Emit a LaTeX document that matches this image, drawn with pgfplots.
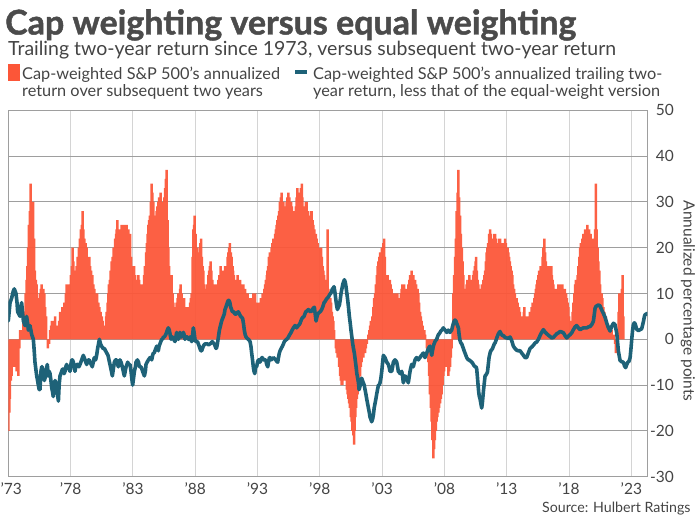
\documentclass[border=0pt]{standalone}
\usepackage{pgfplots}
\usepackage{pgfplotstable}
\pgfplotsset{compat=1.18}
\usepackage{fontspec}
\setmainfont{Lato}
\newfontfamily\heavyfont{Lato}[BoldFeatures={FakeBold=1.3}]
\definecolor{barred}{RGB}{252,86,56}
\definecolor{lineteal}{RGB}{30,98,120}
\definecolor{txt}{RGB}{68,68,68}
\definecolor{titlegray}{RGB}{75,75,75}

\pgfplotstableread[row sep=\\]{
x y \\
1973.0 -20 \\ 1973.08 -16 \\ 1973.13 -13 \\ 1973.2 -9 \\ 1973.27 -8 \\ 1973.35 -5 \\ 1973.45 -6 \\ 1973.55 -4 \\ 1973.67 -7 \\ 1973.8 -8 \\
1973.88 -2 \\ 1973.94 2 \\ 1974.07 2 \\ 1974.2 4 \\ 1974.3 6 \\ 1974.39 10 \\ 1974.47 13 \\ 1974.53 16 \\ 1974.6 20 \\ 1974.66 25 \\
1974.73 28 \\ 1974.8 34 \\ 1974.87 27 \\ 1974.93 26 \\ 1975.0 30 \\ 1975.07 22 \\ 1975.14 15 \\ 1975.21 13 \\ 1975.28 12 \\ 1975.35 9 \\
1975.41 8 \\ 1975.48 9 \\ 1975.54 10 \\ 1975.61 11 \\ 1975.68 12 \\ 1975.75 9 \\ 1975.82 11 \\ 1975.89 10 \\ 1975.96 7 \\ 1976.03 5 \\
1976.1 0 \\ 1976.17 -2 \\ 1976.27 -1 \\ 1976.35 2 \\ 1976.43 3 \\ 1976.5 4 \\ 1976.6 4 \\ 1976.67 3 \\ 1976.75 5 \\ 1976.82 3 \\
1976.88 2 \\ 1976.95 3 \\ 1977.02 1 \\ 1977.08 4 \\ 1977.15 6 \\ 1977.25 6 \\ 1977.34 7 \\ 1977.42 6 \\ 1977.5 8 \\ 1977.55 8 \\
1977.62 10 \\ 1977.68 12 \\ 1977.75 11 \\ 1977.8 12 \\ 1977.88 10 \\ 1977.95 11 \\ 1978.03 14 \\ 1978.1 16 \\ 1978.16 20 \\ 1978.23 17 \\
1978.3 15 \\ 1978.35 15 \\ 1978.42 14 \\ 1978.49 16 \\ 1978.56 18 \\ 1978.62 17 \\ 1978.67 20 \\ 1978.75 22 \\ 1978.83 24 \\ 1978.9 25 \\
1978.97 28 \\ 1979.03 24 \\ 1979.1 22 \\ 1979.2 21 \\ 1979.29 20 \\ 1979.35 18 \\ 1979.42 17 \\ 1979.5 18 \\ 1979.56 16 \\ 1979.64 15 \\
1979.74 14 \\ 1979.82 12 \\ 1979.9 11 \\ 1979.96 10 \\ 1980.05 9 \\ 1980.13 10 \\ 1980.23 8 \\ 1980.3 7 \\ 1980.4 6 \\ 1980.5 5 \\
1980.57 4 \\ 1980.64 2 \\ 1980.71 0 \\ 1980.78 3 \\ 1980.84 5 \\ 1980.9 6 \\ 1980.97 8 \\ 1981.03 10 \\ 1981.08 12 \\ 1981.15 13 \\
1981.22 15 \\ 1981.3 17 \\ 1981.38 18 \\ 1981.45 20 \\ 1981.51 20 \\ 1981.58 22 \\ 1981.65 23 \\ 1981.7 24 \\ 1981.76 26 \\ 1981.83 23 \\
1981.9 24 \\ 1981.96 22 \\ 1982.03 23 \\ 1982.09 25 \\ 1982.15 24 \\ 1982.22 24 \\ 1982.3 25 \\ 1982.36 25 \\ 1982.43 24 \\ 1982.5 25 \\
1982.56 23 \\ 1982.63 24 \\ 1982.7 22 \\ 1982.77 23 \\ 1982.85 18 \\ 1982.9 16 \\ 1982.97 15 \\ 1983.04 15 \\ 1983.09 16 \\ 1983.17 14 \\
1983.24 13 \\ 1983.3 12 \\ 1983.37 13 \\ 1983.44 14 \\ 1983.5 13 \\ 1983.56 12 \\ 1983.62 12 \\ 1983.7 11 \\ 1983.78 10 \\ 1983.84 12 \\
1983.89 14 \\ 1983.96 16 \\ 1984.05 19 \\ 1984.12 21 \\ 1984.18 23 \\ 1984.24 25 \\ 1984.3 26 \\ 1984.37 27 \\ 1984.44 30 \\ 1984.5 34 \\
1984.57 32 \\ 1984.64 30 \\ 1984.7 27 \\ 1984.77 25 \\ 1984.84 26 \\ 1984.9 28 \\ 1984.97 29 \\ 1985.04 30 \\ 1985.1 31 \\ 1985.17 29 \\
1985.23 32 \\ 1985.3 30 \\ 1985.39 27 \\ 1985.45 29 \\ 1985.52 31 \\ 1985.58 33 \\ 1985.64 35 \\ 1985.71 37 \\ 1985.78 26 \\ 1985.84 20 \\
1985.91 16 \\ 1985.98 12 \\ 1986.04 13 \\ 1986.11 14 \\ 1986.18 10 \\ 1986.25 8 \\ 1986.33 7 \\ 1986.43 6 \\ 1986.5 8 \\ 1986.58 9 \\
1986.65 10 \\ 1986.72 8 \\ 1986.78 11 \\ 1986.83 12 \\ 1986.9 10 \\ 1986.97 9 \\ 1987.05 8 \\ 1987.12 9 \\ 1987.2 7 \\ 1987.31 6 \\
1987.4 7 \\ 1987.46 5 \\ 1987.53 7 \\ 1987.6 8 \\ 1987.66 9 \\ 1987.72 10 \\ 1987.79 18 \\ 1987.85 24 \\ 1987.91 25 \\ 1987.96 27 \\
1988.04 23 \\ 1988.12 20 \\ 1988.2 19 \\ 1988.3 18 \\ 1988.36 20 \\ 1988.42 21 \\ 1988.47 22 \\ 1988.54 18 \\ 1988.6 16 \\ 1988.65 15 \\
1988.72 12 \\ 1988.8 11 \\ 1988.87 10 \\ 1988.95 12 \\ 1989.05 14 \\ 1989.12 15 \\ 1989.18 16 \\ 1989.24 17 \\ 1989.3 15 \\ 1989.38 13 \\
1989.45 12 \\ 1989.53 11 \\ 1989.6 12 \\ 1989.67 10 \\ 1989.74 11 \\ 1989.8 12 \\ 1989.86 13 \\ 1989.94 14 \\ 1990.04 16 \\ 1990.12 15 \\
1990.2 15 \\ 1990.26 14 \\ 1990.33 15 \\ 1990.4 16 \\ 1990.46 15 \\ 1990.52 16 \\ 1990.6 18 \\ 1990.66 19 \\ 1990.73 20 \\ 1990.79 21 \\
1990.86 19 \\ 1990.93 18 \\ 1991.0 16 \\ 1991.05 15 \\ 1991.11 14 \\ 1991.2 13 \\ 1991.26 12 \\ 1991.33 12 \\ 1991.4 14 \\ 1991.47 13 \\
1991.54 12 \\ 1991.6 13 \\ 1991.67 12 \\ 1991.74 11 \\ 1991.8 12 \\ 1991.86 12 \\ 1991.94 10 \\ 1992.0 11 \\ 1992.06 9 \\ 1992.13 9 \\
1992.2 10 \\ 1992.27 8 \\ 1992.33 9 \\ 1992.4 8 \\ 1992.47 7 \\ 1992.54 9 \\ 1992.6 8 \\ 1992.67 10 \\ 1992.74 9 \\ 1992.8 10 \\
1992.87 8 \\ 1992.93 6 \\ 1993.0 7 \\ 1993.07 8 \\ 1993.13 7 \\ 1993.2 8 \\ 1993.27 9 \\ 1993.34 9 \\ 1993.4 10 \\ 1993.47 10 \\
1993.54 11 \\ 1993.6 12 \\ 1993.67 13 \\ 1993.74 14 \\ 1993.8 15 \\ 1993.86 16 \\ 1993.92 18 \\ 1993.99 19 \\ 1994.06 19 \\ 1994.14 20 \\
1994.2 21 \\ 1994.27 22 \\ 1994.35 22 \\ 1994.42 23 \\ 1994.48 24 \\ 1994.54 25 \\ 1994.6 26 \\ 1994.67 27 \\ 1994.73 28 \\ 1994.8 30 \\
1994.87 31 \\ 1994.94 32 \\ 1995.0 30 \\ 1995.07 30 \\ 1995.14 29 \\ 1995.2 28 \\ 1995.26 28 \\ 1995.33 30 \\ 1995.4 31 \\ 1995.48 32 \\
1995.55 31 \\ 1995.62 30 \\ 1995.69 30 \\ 1995.76 29 \\ 1995.82 28 \\ 1995.88 28 \\ 1995.95 27 \\ 1996.01 26 \\ 1996.08 29 \\ 1996.14 31 \\
1996.2 33 \\ 1996.27 31 \\ 1996.36 30 \\ 1996.42 32 \\ 1996.48 33 \\ 1996.55 34 \\ 1996.6 31 \\ 1996.67 29 \\ 1996.73 28 \\ 1996.8 29 \\
1996.87 30 \\ 1996.95 30 \\ 1997.02 28 \\ 1997.08 27 \\ 1997.13 26 \\ 1997.2 27 \\ 1997.28 28 \\ 1997.35 28 \\ 1997.42 26 \\ 1997.49 25 \\
1997.56 24 \\ 1997.62 23 \\ 1997.68 23 \\ 1997.75 22 \\ 1997.82 21 \\ 1997.88 20 \\ 1997.94 19 \\ 1998.02 20 \\ 1998.1 20 \\ 1998.16 18 \\
1998.22 16 \\ 1998.28 15 \\ 1998.35 14 \\ 1998.41 13 \\ 1998.47 12 \\ 1998.54 11 \\ 1998.6 12 \\ 1998.63 24 \\ 1998.68 11 \\ 1998.74 10 \\
1998.8 9 \\ 1998.85 9 \\ 1998.9 8 \\ 1998.97 6 \\ 1999.03 5 \\ 1999.09 4 \\ 1999.15 2 \\ 1999.22 0 \\ 1999.28 -2 \\ 1999.35 -3 \\
1999.42 -4 \\ 1999.49 -4 \\ 1999.55 -6 \\ 1999.62 -8 \\ 1999.68 -9 \\ 1999.75 -10 \\ 1999.81 -10 \\ 1999.88 -9 \\ 1999.95 -8 \\ 2000.02 -8 \\
2000.09 -9 \\ 2000.16 -11 \\ 2000.24 -12 \\ 2000.3 -13 \\ 2000.36 -14 \\ 2000.42 -15 \\ 2000.49 -17 \\ 2000.56 -18 \\ 2000.62 -20 \\ 2000.69 -21 \\
2000.75 -23 \\ 2000.8 -20 \\ 2000.86 -17 \\ 2000.91 -15 \\ 2000.97 -13 \\ 2001.04 -12 \\ 2001.1 -10 \\ 2001.17 -9 \\ 2001.23 -8 \\ 2001.3 -6 \\
2001.36 -5 \\ 2001.43 -4 \\ 2001.5 -4 \\ 2001.57 -3 \\ 2001.63 -3 \\ 2001.7 -2 \\ 2001.77 -1 \\ 2001.84 0 \\ 2001.9 1 \\ 2001.97 2 \\
2002.03 3 \\ 2002.1 4 \\ 2002.16 4 \\ 2002.22 5 \\ 2002.3 7 \\ 2002.36 9 \\ 2002.43 10 \\ 2002.5 12 \\ 2002.57 14 \\ 2002.64 16 \\
2002.7 17 \\ 2002.77 18 \\ 2002.83 19 \\ 2002.9 19 \\ 2002.97 20 \\ 2003.04 20 \\ 2003.1 21 \\ 2003.15 22 \\ 2003.22 18 \\ 2003.31 14 \\
2003.38 13 \\ 2003.44 14 \\ 2003.5 13 \\ 2003.57 12 \\ 2003.63 13 \\ 2003.69 12 \\ 2003.76 11 \\ 2003.85 10 \\ 2003.92 9 \\ 2003.97 10 \\
2004.03 8 \\ 2004.1 9 \\ 2004.16 10 \\ 2004.22 10 \\ 2004.3 9 \\ 2004.38 8 \\ 2004.44 9 \\ 2004.5 10 \\ 2004.57 11 \\ 2004.63 12 \\
2004.7 11 \\ 2004.76 12 \\ 2004.83 11 \\ 2004.9 10 \\ 2004.97 10 \\ 2005.04 11 \\ 2005.1 12 \\ 2005.18 13 \\ 2005.24 14 \\ 2005.3 14 \\
2005.37 15 \\ 2005.43 14 \\ 2005.5 14 \\ 2005.57 13 \\ 2005.64 13 \\ 2005.72 12 \\ 2005.78 11 \\ 2005.84 11 \\ 2005.91 10 \\ 2005.97 8 \\
2006.04 6 \\ 2006.1 5 \\ 2006.17 4 \\ 2006.25 3 \\ 2006.31 2 \\ 2006.38 2 \\ 2006.44 1 \\ 2006.51 0 \\ 2006.58 -2 \\ 2006.64 -3 \\
2006.71 -5 \\ 2006.78 -8 \\ 2006.84 -12 \\ 2006.91 -15 \\ 2006.98 -18 \\ 2007.04 -22 \\ 2007.11 -26 \\ 2007.17 -24 \\ 2007.24 -22 \\ 2007.31 -20 \\
2007.38 -18 \\ 2007.44 -17 \\ 2007.51 -16 \\ 2007.58 -15 \\ 2007.65 -14 \\ 2007.71 -13 \\ 2007.78 -12 \\ 2007.85 -10 \\ 2007.91 -8 \\ 2007.98 -7 \\
2008.05 -6 \\ 2008.11 -5 \\ 2008.18 -4 \\ 2008.25 -6 \\ 2008.31 -8 \\ 2008.38 -7 \\ 2008.45 -6 \\ 2008.51 -4 \\ 2008.58 -2 \\ 2008.65 3 \\
2008.72 10 \\ 2008.78 14 \\ 2008.85 18 \\ 2008.91 22 \\ 2008.98 28 \\ 2009.05 32 \\ 2009.12 37 \\ 2009.18 31 \\ 2009.25 27 \\ 2009.32 23 \\
2009.39 20 \\ 2009.45 17 \\ 2009.52 14 \\ 2009.58 11 \\ 2009.65 8 \\ 2009.71 10 \\ 2009.78 12 \\ 2009.84 13 \\ 2009.92 13 \\ 2010.0 14 \\
2010.06 13 \\ 2010.12 12 \\ 2010.19 12 \\ 2010.25 13 \\ 2010.31 14 \\ 2010.37 15 \\ 2010.44 16 \\ 2010.5 17 \\ 2010.54 18 \\ 2010.6 15 \\
2010.66 13 \\ 2010.72 12 \\ 2010.79 11 \\ 2010.86 10 \\ 2010.93 11 \\ 2011.0 12 \\ 2011.07 12 \\ 2011.13 13 \\ 2011.2 14 \\ 2011.26 15 \\
2011.32 17 \\ 2011.38 19 \\ 2011.44 20 \\ 2011.5 21 \\ 2011.58 23 \\ 2011.66 24 \\ 2011.73 23 \\ 2011.8 22 \\ 2011.87 22 \\ 2011.94 22 \\
2012.0 23 \\ 2012.06 23 \\ 2012.13 22 \\ 2012.19 21 \\ 2012.25 20 \\ 2012.32 21 \\ 2012.39 22 \\ 2012.46 22 \\ 2012.53 21 \\ 2012.6 21 \\
2012.66 20 \\ 2012.73 20 \\ 2012.8 21 \\ 2012.86 22 \\ 2012.93 21 \\ 2013.0 20 \\ 2013.07 20 \\ 2013.13 19 \\ 2013.2 18 \\ 2013.26 17 \\
2013.32 16 \\ 2013.39 15 \\ 2013.45 14 \\ 2013.52 12 \\ 2013.59 11 \\ 2013.66 10 \\ 2013.73 9 \\ 2013.8 9 \\ 2013.88 8 \\ 2013.95 7 \\
2014.0 7 \\ 2014.06 6 \\ 2014.13 5 \\ 2014.19 5 \\ 2014.25 4 \\ 2014.32 5 \\ 2014.38 6 \\ 2014.41 7 \\ 2014.47 5 \\ 2014.54 5 \\
2014.6 4 \\ 2014.66 4 \\ 2014.72 5 \\ 2014.79 5 \\ 2014.86 6 \\ 2014.93 6 \\ 2015.0 7 \\ 2015.07 8 \\ 2015.14 8 \\ 2015.21 9 \\
2015.28 10 \\ 2015.34 11 \\ 2015.4 12 \\ 2015.46 13 \\ 2015.53 14 \\ 2015.59 15 \\ 2015.66 15 \\ 2015.72 16 \\ 2015.8 16 \\ 2015.87 18 \\
2015.94 20 \\ 2016.02 22 \\ 2016.08 19 \\ 2016.14 17 \\ 2016.2 16 \\ 2016.26 15 \\ 2016.33 16 \\ 2016.39 15 \\ 2016.46 16 \\ 2016.52 16 \\
2016.58 16 \\ 2016.62 14 \\ 2016.68 13 \\ 2016.74 12 \\ 2016.8 11 \\ 2016.87 11 \\ 2016.93 10 \\ 2017.0 11 \\ 2017.07 11 \\ 2017.14 12 \\
2017.2 11 \\ 2017.27 12 \\ 2017.33 12 \\ 2017.4 11 \\ 2017.47 12 \\ 2017.54 11 \\ 2017.6 10 \\ 2017.67 11 \\ 2017.76 10 \\ 2017.82 9 \\
2017.88 8 \\ 2017.94 7 \\ 2018.0 5 \\ 2018.07 4 \\ 2018.13 3 \\ 2018.2 4 \\ 2018.29 6 \\ 2018.35 8 \\ 2018.42 10 \\ 2018.48 12 \\
2018.55 13 \\ 2018.62 13 \\ 2018.69 14 \\ 2018.75 16 \\ 2018.82 18 \\ 2018.88 20 \\ 2018.95 21 \\ 2019.01 21 \\ 2019.07 22 \\ 2019.14 23 \\
2019.21 23 \\ 2019.28 24 \\ 2019.34 24 \\ 2019.41 24 \\ 2019.47 25 \\ 2019.54 24 \\ 2019.61 24 \\ 2019.68 23 \\ 2019.74 23 \\ 2019.81 22 \\
2019.87 22 \\ 2019.94 21 \\ 2020.03 20 \\ 2020.1 24 \\ 2020.16 34 \\ 2020.22 24 \\ 2020.3 20 \\ 2020.36 17 \\ 2020.43 15 \\ 2020.5 12 \\
2020.57 10 \\ 2020.62 10 \\ 2020.67 9 \\ 2020.75 7 \\ 2020.83 6 \\ 2020.9 5 \\ 2020.96 5 \\ 2021.02 4 \\ 2021.1 3 \\ 2021.16 3 \\
2021.21 2 \\ 2021.3 2 \\ 2021.36 3 \\ 2021.42 2 \\ 2021.5 1 \\ 2021.57 1 \\ 2021.64 0 \\ 2021.7 -1 \\ 2021.75 -3 \\ 2021.82 0 \\
2021.9 2 \\ 2021.97 6 \\ 2022.04 10 \\ 2022.1 9 \\ 2022.17 8 \\ 2022.24 11 \\ 2022.3 14 \\ 2022.36 5 \\
}\fwdtable

\pgfplotstableread[row sep=\\]{
x y \\
1973.0 4 \\ 1973.07 6 \\ 1973.14 8 \\ 1973.27 9 \\ 1973.4 10.5 \\ 1973.48 11 \\ 1973.55 10.5 \\ 1973.62 10 \\ 1973.7 8 \\ 1973.75 6 \\
1973.85 5.5 \\ 1973.94 5 \\ 1974.0 7 \\ 1974.07 8 \\ 1974.14 6 \\ 1974.21 4 \\ 1974.34 3 \\ 1974.47 5 \\ 1974.55 3.5 \\ 1974.61 2 \\
1974.74 3 \\ 1974.88 1 \\ 1975.01 0 \\ 1975.08 -2.5 \\ 1975.14 -5 \\ 1975.21 -6.5 \\ 1975.28 -8 \\ 1975.35 -9 \\ 1975.41 -10 \\ 1975.48 -11 \\
1975.54 -11 \\ 1975.62 -7 \\ 1975.68 -6 \\ 1975.73 -6 \\ 1975.8 -8 \\ 1975.89 -9 \\ 1976.0 -8 \\ 1976.06 -6.5 \\ 1976.13 -5.5 \\ 1976.21 -8 \\
1976.28 -7 \\ 1976.35 -7.5 \\ 1976.42 -9 \\ 1976.48 -10.5 \\ 1976.55 -11.5 \\ 1976.61 -12.5 \\ 1976.68 -10.5 \\ 1976.75 -9 \\ 1976.82 -9.5 \\ 1976.88 -10 \\
1976.95 -12 \\ 1977.02 -13.5 \\ 1977.08 -10 \\ 1977.15 -8 \\ 1977.22 -7.5 \\ 1977.28 -7 \\ 1977.35 -6.5 \\ 1977.42 -6.5 \\ 1977.48 -7.5 \\ 1977.55 -7 \\
1977.62 -6 \\ 1977.68 -5.5 \\ 1977.75 -6 \\ 1977.82 -6 \\ 1977.88 -6.5 \\ 1977.95 -7 \\ 1978.02 -5.5 \\ 1978.09 -4.5 \\ 1978.15 -4.5 \\ 1978.22 -5 \\
1978.28 -6 \\ 1978.35 -7 \\ 1978.42 -6 \\ 1978.49 -5.5 \\ 1978.58 -5.5 \\ 1978.67 -6 \\ 1978.75 -5.5 \\ 1978.82 -5 \\ 1978.89 -4.5 \\ 1979.02 -3.5 \\
1979.09 -4 \\ 1979.16 -4.5 \\ 1979.22 -5 \\ 1979.29 -5.5 \\ 1979.35 -5 \\ 1979.42 -4.5 \\ 1979.49 -4.5 \\ 1979.56 -5 \\ 1979.65 -5.5 \\ 1979.74 -6 \\
1979.82 -5 \\ 1979.9 -4 \\ 1980.01 -4.5 \\ 1980.09 -3.5 \\ 1980.17 -2 \\ 1980.24 -1 \\ 1980.31 0 \\ 1980.4 -1 \\ 1980.49 -1.5 \\ 1980.6 -2 \\
1980.71 -2 \\ 1980.8 -2.5 \\ 1980.9 -3 \\ 1981.0 -3.5 \\ 1981.08 -4.5 \\ 1981.16 -5.5 \\ 1981.24 -6.5 \\ 1981.35 -8 \\ 1981.43 -6.5 \\ 1981.51 -5 \\
1981.6 -4.5 \\ 1981.7 -4.5 \\ 1981.77 -5.5 \\ 1981.83 -6 \\ 1981.9 -5 \\ 1981.96 -4.5 \\ 1982.05 -5 \\ 1982.15 -6 \\ 1982.23 -7 \\ 1982.31 -8 \\
1982.38 -7 \\ 1982.45 -6 \\ 1982.52 -5.5 \\ 1982.58 -5 \\ 1982.67 -5.5 \\ 1982.77 -5.5 \\ 1982.85 -7 \\ 1982.93 -9 \\ 1982.98 -10 \\ 1983.05 -8.5 \\
1983.12 -7 \\ 1983.2 -6 \\ 1983.25 -5 \\ 1983.36 -4.5 \\ 1983.45 -5 \\ 1983.52 -6 \\ 1983.65 -6 \\ 1983.72 -6.5 \\ 1983.78 -7 \\ 1983.85 -7.5 \\
1983.92 -8 \\ 1984.0 -7 \\ 1984.05 -5.5 \\ 1984.14 -5 \\ 1984.24 -4.5 \\ 1984.37 -4 \\ 1984.45 -4 \\ 1984.51 -4.5 \\ 1984.58 -3.5 \\ 1984.64 -3 \\
1984.71 -3 \\ 1984.77 -2.5 \\ 1984.84 -2 \\ 1984.91 -1.5 \\ 1984.98 -2 \\ 1985.04 -2.5 \\ 1985.1 -1.5 \\ 1985.17 -1 \\ 1985.24 -0.5 \\ 1985.31 0 \\
1985.38 0 \\ 1985.44 0.5 \\ 1985.52 0.5 \\ 1985.63 1 \\ 1985.7 1.5 \\ 1985.76 2 \\ 1985.84 2.5 \\ 1985.92 2 \\ 1985.99 1 \\ 1986.06 0 \\
1986.12 0.5 \\ 1986.19 0.5 \\ 1986.27 0 \\ 1986.38 -0.5 \\ 1986.45 0.5 \\ 1986.51 1.5 \\ 1986.58 1 \\ 1986.65 0 \\ 1986.72 0.5 \\ 1986.78 1.5 \\
1986.85 1 \\ 1986.91 0.5 \\ 1986.98 1 \\ 1987.05 1.5 \\ 1987.11 1 \\ 1987.18 0 \\ 1987.24 0.5 \\ 1987.31 0.5 \\ 1987.38 0.5 \\ 1987.45 0 \\
1987.51 0 \\ 1987.58 0.5 \\ 1987.65 0 \\ 1987.72 -0.5 \\ 1987.79 1 \\ 1987.85 2.5 \\ 1987.91 1.5 \\ 1987.98 0 \\ 1988.05 -0.5 \\ 1988.12 -0.5 \\
1988.18 -0.5 \\ 1988.25 -1 \\ 1988.32 -1.5 \\ 1988.38 -2 \\ 1988.45 -2.5 \\ 1988.52 -2.5 \\ 1988.58 -2 \\ 1988.65 -1.5 \\ 1988.72 -1.2 \\ 1988.79 -1 \\
1988.88 -1 \\ 1988.97 -1 \\ 1989.08 -1.2 \\ 1989.19 -1 \\ 1989.28 -0.8 \\ 1989.37 -0.5 \\ 1989.45 -0.8 \\ 1989.53 -1 \\ 1989.6 -1.5 \\ 1989.67 -2 \\
1989.72 -1.8 \\ 1989.78 -1 \\ 1989.86 0.5 \\ 1989.94 2 \\ 1990.03 3 \\ 1990.12 4 \\ 1990.19 4.5 \\ 1990.26 5 \\ 1990.33 5.5 \\ 1990.39 6.5 \\
1990.46 7 \\ 1990.52 7.5 \\ 1990.58 8 \\ 1990.65 8.5 \\ 1990.71 8.5 \\ 1990.78 8 \\ 1990.85 7 \\ 1990.92 6.5 \\ 1990.98 6 \\ 1991.05 6 \\
1991.11 6 \\ 1991.19 5.5 \\ 1991.27 5.5 \\ 1991.36 5.8 \\ 1991.46 6 \\ 1991.55 5.5 \\ 1991.65 5 \\ 1991.73 4.8 \\ 1991.81 4.5 \\ 1991.87 3.5 \\
1991.94 2 \\ 1992.01 1 \\ 1992.08 0.5 \\ 1992.17 0.2 \\ 1992.26 0 \\ 1992.33 -0.2 \\ 1992.4 -0.5 \\ 1992.47 -1.5 \\ 1992.53 -3 \\ 1992.6 -4.5 \\
1992.66 -6 \\ 1992.72 -7 \\ 1992.78 -7.5 \\ 1992.85 -6 \\ 1992.93 -6 \\ 1993.0 -5 \\ 1993.07 -4.5 \\ 1993.14 -4.5 \\ 1993.2 -5 \\ 1993.27 -4.5 \\
1993.34 -4 \\ 1993.4 -4 \\ 1993.47 -4.5 \\ 1993.55 -4.5 \\ 1993.66 -4.5 \\ 1993.74 -5.5 \\ 1993.82 -6 \\ 1993.88 -5 \\ 1993.95 -4 \\ 1994.02 -4 \\
1994.08 -4.5 \\ 1994.18 -4.3 \\ 1994.27 -4 \\ 1994.36 -4.2 \\ 1994.46 -4.5 \\ 1994.54 -4.8 \\ 1994.62 -5 \\ 1994.68 -4 \\ 1994.75 -3 \\ 1994.81 -2.5 \\
1994.9 -2 \\ 1995.0 -1.5 \\ 1995.08 -1 \\ 1995.15 -0.5 \\ 1995.25 -0.2 \\ 1995.34 0 \\ 1995.41 0.2 \\ 1995.48 0.5 \\ 1995.58 1 \\ 1995.69 1.5 \\
1995.78 2 \\ 1995.88 2.5 \\ 1996.01 3 \\ 1996.08 2.8 \\ 1996.14 2.5 \\ 1996.21 2.8 \\ 1996.28 3 \\ 1996.35 3.2 \\ 1996.41 3.5 \\ 1996.48 4 \\
1996.55 4.5 \\ 1996.64 4.8 \\ 1996.73 5 \\ 1996.8 5.5 \\ 1996.87 6 \\ 1996.97 6.2 \\ 1997.08 6.5 \\ 1997.17 6.2 \\ 1997.27 6 \\ 1997.34 6.2 \\
1997.4 6.5 \\ 1997.48 6.8 \\ 1997.56 7 \\ 1997.63 5.5 \\ 1997.7 4 \\ 1997.76 4.8 \\ 1997.83 5.5 \\ 1997.92 5.8 \\ 1998.02 6 \\ 1998.08 6.2 \\
1998.15 6.5 \\ 1998.25 7.2 \\ 1998.34 8 \\ 1998.41 8.2 \\ 1998.47 8.5 \\ 1998.54 8.8 \\ 1998.6 9 \\ 1998.67 9.2 \\ 1998.74 9.5 \\ 1998.8 9.8 \\
1998.87 10 \\ 1998.94 10.5 \\ 1999.01 11 \\ 1999.08 11.2 \\ 1999.14 11.5 \\ 1999.2 10.5 \\ 1999.27 9 \\ 1999.34 7.5 \\ 1999.41 6.5 \\ 1999.49 7 \\
1999.57 7.5 \\ 1999.63 8.5 \\ 1999.7 10 \\ 1999.77 11 \\ 1999.84 12 \\ 1999.9 12.5 \\ 1999.97 13 \\ 2000.04 12.5 \\ 2000.1 11.5 \\ 2000.17 10 \\
2000.24 8.5 \\ 2000.3 7 \\ 2000.37 5 \\ 2000.44 3.5 \\ 2000.5 2 \\ 2000.57 0.5 \\ 2000.64 -1 \\ 2000.7 -2 \\ 2000.77 -3 \\ 2000.84 -4.5 \\
2000.91 -6 \\ 2000.97 -7.5 \\ 2001.04 -8.5 \\ 2001.1 -9.5 \\ 2001.15 -11 \\ 2001.2 -10.5 \\ 2001.25 -10 \\ 2001.3 -9 \\ 2001.36 -8.5 \\ 2001.42 -9 \\
2001.49 -9.5 \\ 2001.56 -10 \\ 2001.63 -11 \\ 2001.7 -12 \\ 2001.76 -13 \\ 2001.83 -14 \\ 2001.9 -15 \\ 2001.97 -16 \\ 2002.03 -17 \\ 2002.1 -17.5 \\
2002.16 -18 \\ 2002.23 -17.5 \\ 2002.3 -16.5 \\ 2002.36 -15 \\ 2002.43 -14 \\ 2002.5 -13 \\ 2002.56 -12 \\ 2002.63 -11 \\ 2002.7 -10 \\ 2002.76 -10 \\
2002.83 -9.5 \\ 2002.9 -8.5 \\ 2002.97 -7 \\ 2003.04 -5 \\ 2003.1 -3.5 \\ 2003.17 -3.8 \\ 2003.23 -4 \\ 2003.3 -4.5 \\ 2003.37 -5 \\ 2003.43 -5.2 \\
2003.5 -5.5 \\ 2003.57 -6.2 \\ 2003.63 -7 \\ 2003.7 -7 \\ 2003.77 -7 \\ 2003.84 -6 \\ 2003.9 -5 \\ 2003.97 -4.7 \\ 2004.03 -4.5 \\ 2004.1 -4.7 \\
2004.17 -5 \\ 2004.24 -6 \\ 2004.3 -7 \\ 2004.37 -7.2 \\ 2004.44 -7.5 \\ 2004.5 -7.2 \\ 2004.57 -7 \\ 2004.64 -8 \\ 2004.7 -9.5 \\ 2004.77 -8.8 \\
2004.84 -8 \\ 2004.9 -8.2 \\ 2004.97 -8.5 \\ 2005.04 -9 \\ 2005.1 -9.5 \\ 2005.17 -8.2 \\ 2005.24 -7 \\ 2005.3 -6.2 \\ 2005.37 -5.5 \\ 2005.44 -5.7 \\
2005.5 -6 \\ 2005.57 -5.2 \\ 2005.64 -4.5 \\ 2005.7 -4.2 \\ 2005.77 -4 \\ 2005.84 -4.2 \\ 2005.91 -4.5 \\ 2005.97 -4.2 \\ 2006.04 -4 \\ 2006.1 -3.7 \\
2006.17 -3.5 \\ 2006.24 -3.2 \\ 2006.31 -3 \\ 2006.37 -3.5 \\ 2006.44 -4 \\ 2006.51 -3.5 \\ 2006.58 -3 \\ 2006.64 -2.5 \\ 2006.71 -2 \\ 2006.78 -1.7 \\
2006.84 -1.5 \\ 2006.91 -2.5 \\ 2006.98 -3.5 \\ 2007.04 -2.5 \\ 2007.11 -1.5 \\ 2007.17 -1 \\ 2007.24 -0.5 \\ 2007.31 -0.2 \\ 2007.38 0 \\ 2007.44 0.5 \\
2007.51 1 \\ 2007.58 1.2 \\ 2007.65 1.5 \\ 2007.71 1.8 \\ 2007.78 2 \\ 2007.85 2.2 \\ 2007.91 2.5 \\ 2007.98 2.2 \\ 2008.05 2 \\ 2008.11 1.8 \\
2008.18 1.5 \\ 2008.25 1.8 \\ 2008.31 2 \\ 2008.38 1.8 \\ 2008.45 1.5 \\ 2008.51 1.8 \\ 2008.58 2 \\ 2008.65 2.8 \\ 2008.72 3.5 \\ 2008.78 4 \\
2008.85 4.2 \\ 2008.92 4 \\ 2008.98 3.5 \\ 2009.05 3 \\ 2009.12 2.5 \\ 2009.18 1 \\ 2009.25 -0.3 \\ 2009.32 -0.8 \\ 2009.39 -1 \\ 2009.45 -1.5 \\
2009.52 -2 \\ 2009.58 -2.5 \\ 2009.65 -3 \\ 2009.72 -3.5 \\ 2009.79 -4 \\ 2009.86 -4.3 \\ 2009.92 -4.5 \\ 2009.99 -4.5 \\ 2010.05 -4.7 \\ 2010.12 -4.8 \\
2010.19 -5 \\ 2010.26 -5.2 \\ 2010.32 -5.5 \\ 2010.39 -5.8 \\ 2010.46 -6 \\ 2010.53 -6 \\ 2010.59 -6.5 \\ 2010.64 -8 \\ 2010.7 -10 \\ 2010.75 -11.5 \\
2010.8 -12.5 \\ 2010.86 -13 \\ 2010.92 -14 \\ 2010.99 -15 \\ 2011.04 -14 \\ 2011.09 -12.5 \\ 2011.14 -11 \\ 2011.2 -9.5 \\ 2011.26 -8 \\ 2011.33 -7.8 \\
2011.39 -7.5 \\ 2011.45 -7.2 \\ 2011.52 -5.5 \\ 2011.58 -4 \\ 2011.66 -3 \\ 2011.72 -2.5 \\ 2011.79 -2.3 \\ 2011.86 -2 \\ 2011.93 -1.5 \\ 2012.0 -1 \\
2012.06 -0.8 \\ 2012.13 -0.3 \\ 2012.2 0.3 \\ 2012.27 0.8 \\ 2012.33 1.2 \\ 2012.4 1.5 \\ 2012.46 1.7 \\ 2012.53 1.3 \\ 2012.6 1 \\ 2012.66 0.8 \\
2012.73 0.8 \\ 2012.8 0.6 \\ 2012.87 0.4 \\ 2013.0 0.3 \\ 2013.13 0.2 \\ 2013.27 0.5 \\ 2013.4 -0.3 \\ 2013.53 -1.5 \\ 2013.66 -2 \\ 2013.8 -2.4 \\
2013.93 -2.5 \\ 2014.07 -2.5 \\ 2014.2 -3 \\ 2014.34 -3.5 \\ 2014.47 -4 \\ 2014.6 -4 \\ 2014.73 -3 \\ 2014.87 -2 \\ 2015.0 -1.7 \\ 2015.14 -1.3 \\
2015.27 -0.8 \\ 2015.4 -0.6 \\ 2015.54 0 \\ 2015.67 0.8 \\ 2015.8 1.5 \\ 2015.94 2.1 \\ 2016.07 1.6 \\ 2016.21 1.2 \\ 2016.34 0.9 \\ 2016.48 0.6 \\
2016.6 0.3 \\ 2016.74 0.4 \\ 2016.87 0.8 \\ 2017.01 1.2 \\ 2017.14 1.4 \\ 2017.28 1.7 \\ 2017.41 1.6 \\ 2017.55 1.4 \\ 2017.68 0.8 \\ 2017.81 0.3 \\
2017.95 0.7 \\ 2018.08 1 \\ 2018.21 1.4 \\ 2018.35 2.1 \\ 2018.48 2.7 \\ 2018.61 3 \\ 2018.75 2.5 \\ 2018.88 2.1 \\ 2019.01 2.3 \\ 2019.15 2.5 \\
2019.28 2.5 \\ 2019.42 2.5 \\ 2019.55 2.7 \\ 2019.69 2.8 \\ 2019.82 3.2 \\ 2019.95 3.9 \\ 2020.03 5.5 \\ 2020.09 6.8 \\ 2020.16 7.2 \\ 2020.23 7.3 \\
2020.35 7.5 \\ 2020.48 7.3 \\ 2020.62 6.4 \\ 2020.75 5.7 \\ 2020.89 4.8 \\ 2021.02 3.6 \\ 2021.16 2.5 \\ 2021.29 1.8 \\ 2021.42 2.8 \\ 2021.56 3.5 \\
2021.69 3.2 \\ 2021.83 1.3 \\ 2021.96 -2.6 \\ 2022.09 -4.6 \\ 2022.22 -4.9 \\ 2022.36 -5 \\ 2022.45 -5.8 \\ 2022.54 -6.2 \\ 2022.63 -5.5 \\ 2022.72 -5 \\
2022.81 -4.8 \\ 2022.9 -4 \\ 2022.97 -2 \\ 2023.03 0 \\ 2023.1 2 \\ 2023.16 3.2 \\ 2023.24 3.6 \\ 2023.3 3.4 \\ 2023.43 2.2 \\ 2023.56 1.9 \\
2023.7 2.1 \\ 2023.83 2.3 \\ 2023.97 3.9 \\ 2024.05 5 \\ 2024.1 5.4 \\ 2024.2 5.5 \\ 2024.28 5.7 \\
}\spreadtable

\begin{document}
\begin{tikzpicture}[x=1pt,y=1pt]
\useasboundingbox (-8.3,-41.3) rectangle (691.7,476.7);
\begin{axis}[
  at={(0,0)}, anchor=south west,
  width=639pt, height=366.4pt, scale only axis,
  xmin=1973, xmax=2024.28, ymin=-30, ymax=50,
  xtick={1973,1978,1983,1988,1993,1998,2003,2008,2013,2018,2023},
  xticklabels={\hspace*{6pt}’73,’78,’83,’88,’93,’98,’03,’08,’13,’18,’23},
  ytick={-30,-20,-10,0,10,20,30,40,50},
  yticklabels={-30,-20,-10,0,10,20,30,40,50},
  yticklabel pos=right,
  major tick length=0pt,
  axis line style={draw=black!38, line width=0.9pt},
  xmajorgrids, ymajorgrids,
  x grid style={draw=black!17, line width=0.9pt},
  y grid style={draw=black!38, line width=0.9pt},
  xticklabel style={font=\fontsize{15.5}{18}\selectfont, text=txt, anchor=base, yshift=-18.3pt, inner sep=0pt},
  yticklabel style={font=\fontsize{15.5}{18}\selectfont, text=txt, anchor=east, xshift=26.7pt, inner sep=0pt},
  clip=true,
]
\addplot[ybar, bar width=0.2, bar shift=0pt, fill=barred, fill opacity=0.94, draw=none] table[x=x, y=y] {\fwdtable};
\addplot[lineteal, line width=3.6pt, line join=round, line cap=round, mark=none] table[x=x, y=y] {\spreadtable};
\end{axis}
% title, subtitle, legend
\node[anchor=base west, inner sep=0pt, text=titlegray, font=\heavyfont\fontsize{34}{40}\selectfont\bfseries] at (-3.3,442.2) {Cap weighting versus equal weighting};
\node[anchor=base west, inner sep=0pt, text=txt, font=\fontsize{19.5}{23}\selectfont] at (-0.3,421.5) {Trailing two-year return since 1973, versus subsequent two-year return};
\fill[barred] (-0.3,395.7) rectangle (11.7,412.7);
\node[anchor=base west, inner sep=0pt, text=txt, font=\fontsize{16.3}{19}\selectfont] at (13.7,396.7) {Cap-weighted S\&P 500’s annualized};
\node[anchor=base west, inner sep=0pt, text=txt, font=\fontsize{16.3}{19}\selectfont] at (13.7,379.7) {return over subsequent two years};
\draw[lineteal, line width=3.6pt] (286.7,404.7) -- (298.7,404.7);
\node[anchor=base west, inner sep=0pt, text=txt, font=\fontsize{16.3}{19}\selectfont] at (304.7,396.7) {Cap-weighted S\&P 500’s annualized trailing two-};
\node[anchor=base west, inner sep=0pt, text=txt, font=\fontsize{16.3}{19}\selectfont] at (304.7,379.7) {year return, less that of the equal-weight version};
% y label
\node[rotate=-90, inner sep=0pt, text=txt, font=\fontsize{15.5}{18}\selectfont] at (679.7,175.7) {Annualized percentage points};
% source
\node[anchor=base east, inner sep=0pt, text=txt, font=\fontsize{14.2}{17}\selectfont] at (682.4,-35.6) {Source: Hulbert Ratings};
\end{tikzpicture}
\end{document}
